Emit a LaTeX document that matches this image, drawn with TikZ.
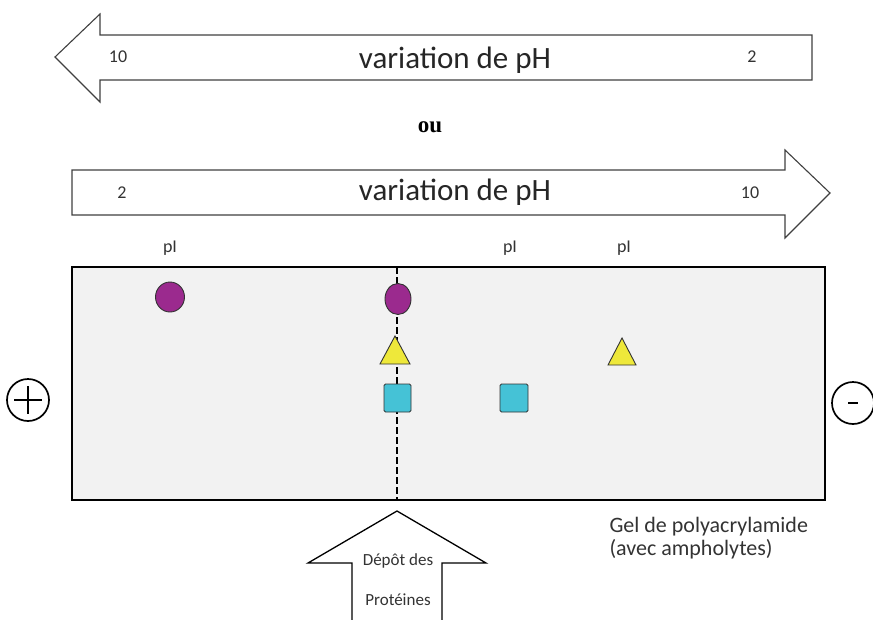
\documentclass[tikz,border=0pt]{standalone}
\usepackage{fontspec}
\setmainfont{Carlito}
\newfontfamily\serifb{Liberation Serif}
\definecolor{gelgray}{HTML}{F2F2F2}
\definecolor{purp}{HTML}{9B2A8E}
\definecolor{yel}{HTML}{EEE83A}
\definecolor{cyn}{HTML}{45C2D6}
\definecolor{txtgray}{HTML}{333333}
\begin{document}
\begin{tikzpicture}[x=1pt,y=-1pt,
  bigarrow/.style={draw=black!75, line width=1.1pt, fill=white, line join=miter},
  small/.style={font=\fontsize{18}{20}\selectfont, text=txtgray},
  label/.style={font=\fontsize{31}{34}\selectfont, text=black!85},
  protein/.style={draw=black!80, line width=0.9pt}
]
\useasboundingbox (0,0) rectangle (873,619);
% top arrow (leftwards)
\draw[bigarrow] (55,57) -- (100,14) -- (100,35) -- (812,35) -- (812,80) -- (100,80) -- (100,102) -- cycle;
\node[small] (t10) at (118,57) {10};
\node[label] (tlab) at (455,60) {variation de pH};
\node[small] (t2) at (752,57) {2};
\node[font=\serifb\bfseries\fontsize{23}{26}\selectfont] (ou) at (430,127) {ou};
% bottom arrow (rightwards)
\draw[bigarrow] (72,170) -- (785,170) -- (785,150) -- (830,193) -- (785,238) -- (785,215) -- (72,215) -- cycle;
\node[small] (b2) at (122,193) {2};
\node[label] (blab) at (455,192) {variation de pH};
\node[small] (b10) at (750,193) {10};
% pI labels
\node[small] (pi1) at (170,248) {pI};
\node[small] (pi2) at (510,248) {pI};
\node[small] (pi3) at (624,248) {pI};
% gel
\draw[line width=1.6pt, fill=gelgray] (72,267) rectangle (825,500);
\draw[dashed, line width=1.1pt, dash pattern=on 7pt off 3pt] (397,267) -- (397,500);
% proteins
\draw[protein, fill=purp] (170,297) ellipse [x radius=14.5, y radius=15];
\draw[protein, fill=purp] (398,299) ellipse [x radius=13, y radius=15.5];
\draw[protein, fill=yel] (395,336) -- (410,364) -- (380,364) -- cycle;
\draw[protein, fill=yel] (622,338) -- (636,365) -- (608,365) -- cycle;
\draw[protein, fill=cyn, rounded corners=1.5pt] (384,384) rectangle (411,412);
\draw[protein, fill=cyn, rounded corners=1.5pt] (500,384) rectangle (528,412);
% electrodes
\draw[line width=1.7pt] (28,400) circle (21);
\draw[line width=1.7pt] (28,386) -- (28,414) (14,400) -- (42,400);
\draw[line width=1.7pt] (853,403) circle (21);
\draw[line width=2.2pt] (848,403) -- (858,403);
% deposit arrow
\draw[bigarrow, draw=black, line width=1.3pt] (397,511) -- (486,563) -- (442,563) -- (442,622) -- (352,622) -- (352,563) -- (308,563) -- cycle;
\node[font=\fontsize{17}{19}\selectfont, text=txtgray] (dep1) at (398,561) {Dépôt des};
\node[font=\fontsize{17}{19}\selectfont, text=txtgray] (dep2) at (398,600) {Protéines};
% gel label
\node[font=\fontsize{22}{23}\selectfont, text=txtgray, align=left, anchor=north west] (gel) at (606,514) {Gel de polyacrylamide\\(avec ampholytes)};
\end{tikzpicture}
\end{document}
